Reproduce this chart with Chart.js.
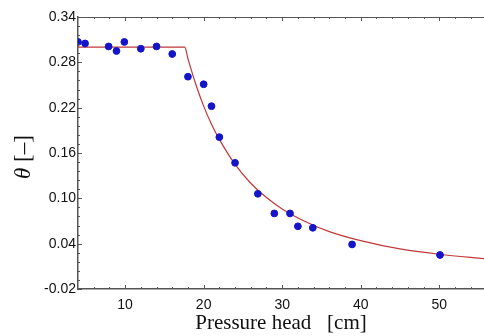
<!DOCTYPE html>
<html>
<head>
<meta charset="utf-8">
<script src="https://cdn.jsdelivr.net/npm/chart.js@4.4.0/dist/chart.umd.min.js"></script>
<style>
  html, body { margin: 0; padding: 0; background: #fff; }
  #wrap { width: 484px; height: 336px; position: relative; }
</style>
</head>
<body>
<div id="wrap"><canvas id="myChart"></canvas></div>
<script>
// measured points (pressure head cm, theta)
let headObs = [4, 4.9, 7.9, 8.9, 9.9, 12, 14, 16, 18, 20, 21, 22, 24, 26.9, 29, 31, 32, 33.9, 38.9, 50.1];
let thetaObs = [0.307, 0.305, 0.301, 0.295, 0.307, 0.298, 0.301, 0.291, 0.261, 0.251, 0.222, 0.181, 0.147, 0.106, 0.080, 0.080, 0.063, 0.061, 0.039, 0.025];

// fitted curve
let headFit = [4, 17.6, 18, 19, 20, 21, 22, 24, 26, 28, 30, 33, 36, 40, 45, 50, 56];
let thetaFit = [0.300, 0.300, 0.285, 0.251, 0.222, 0.198, 0.178, 0.145, 0.120, 0.101, 0.086, 0.069, 0.056, 0.044, 0.033, 0.026, 0.020];

let xTicks = [10, 20, 30, 40, 50];
let yTicks = [-0.02, 0.04, 0.10, 0.16, 0.22, 0.28, 0.34];

function toXY(xs, ys) {
  let out = [];
  for (let i in xs) out.push({ x: xs[i], y: ys[i] });
  return out;
}

// small inward ticks, top frame line and the y title (italic theta + upright unit)
let frameTicks = {
  id: "frameTicks",
  afterDraw(chart) {
    let c = chart.ctx, a = chart.chartArea;
    let xs = chart.scales.x, ys = chart.scales.y;
    c.save();
    c.strokeStyle = "#555";
    c.lineWidth = 1;
    c.beginPath();
    c.moveTo(a.left, a.top + 0.5);
    c.lineTo(a.right, a.top + 0.5);
    for (let v = 4; v <= 56; v += 2) {
      let px = Math.round(xs.getPixelForValue(v)) + 0.5;
      if (px < a.left + 1 || px > a.right) continue;
      let len = (v % 10 == 0) ? 4 : 2;
      c.moveTo(px, a.bottom); c.lineTo(px, a.bottom - len);
      c.moveTo(px, a.top); c.lineTo(px, a.top + len);
    }
    for (let k = 0; k <= 30; k++) {
      let v = -0.02 + k * 0.012;
      let py = Math.round(ys.getPixelForValue(v)) + 0.5;
      let len = (k % 5 == 0) ? 4 : 2;
      c.moveTo(a.left, py); c.lineTo(a.left + len, py);
    }
    c.stroke();

    // y title
    c.translate(30, 157);
    c.rotate(-Math.PI / 2);
    c.fillStyle = "#111";
    c.textBaseline = "alphabetic";
    c.font = "italic 23px 'Liberation Serif'";
    let t1 = "\u03B8 ";
    let w1 = c.measureText(t1).width;
    c.font = "23px 'Liberation Serif'";
    let t2 = "[\u2013]";
    let w2 = c.measureText(t2).width;
    let x0 = -(w1 + w2) / 2;
    c.font = "italic 23px 'Liberation Serif'";
    c.fillText(t1, x0, 0);
    c.font = "23px 'Liberation Serif'";
    c.fillText(t2, x0 + w1, 0);
    c.restore();
  }
};

let ctx = document.getElementById("myChart");
let chart1 = new Chart(ctx, {
  type: "scatter",
  data: {
    datasets: [{
      label: "fit",
      type: "line",
      data: toXY(headFit, thetaFit),
      borderColor: "#c0393a",
      borderWidth: 1.2,
      pointRadius: 0,
      fill: false,
      cubicInterpolationMode: "monotone",
      order: 2
    }, {
      label: "measured",
      data: toXY(headObs, thetaObs),
      backgroundColor: "#1414c8",
      borderColor: "#1414c8",
      pointRadius: 3.4,
      order: 1
    }]
  },
  plugins: [frameTicks],
  options: {
    responsive: true,
    maintainAspectRatio: false,
    animation: false,
    layout: { autoPadding: false, padding: { top: 17, right: 0, left: 0, bottom: 0 } },
    plugins: {
      legend: { display: false },
      tooltip: { enabled: false }
    },
    scales: {
      x: {
        type: "linear",
        min: 4,
        max: 55.7,
        afterBuildTicks: function (s) { s.ticks = xTicks.map(v => ({ value: v })); },
        afterFit: function (s) { s.height = 47; },
        grid: { display: false },
        border: { color: "#555", width: 1.5 },
        ticks: {
          color: "#111",
          font: { family: "Liberation Sans", size: 14 },
          padding: 0,
          maxRotation: 0
        },
        title: {
          display: true,
          text: "Pressure head   [cm]",
          color: "#111",
          font: { family: "Liberation Serif", size: 21 },
          padding: { top: 0, bottom: 0 }
        }
      },
      y: {
        min: -0.02,
        max: 0.34,
        afterBuildTicks: function (s) { s.ticks = yTicks.map(v => ({ value: v })); },
        afterFit: function (s) { s.width = 78; },
        grid: { display: false, drawTicks: false, tickLength: 0 },
        border: { color: "#555", width: 1.5 },
        ticks: {
          color: "#111",
          font: { family: "Liberation Sans", size: 14 },
          padding: 2,
          callback: function (v) { return v.toFixed(2); }
        }
      }
    }
  }
});
</script>
</body>
</html>
